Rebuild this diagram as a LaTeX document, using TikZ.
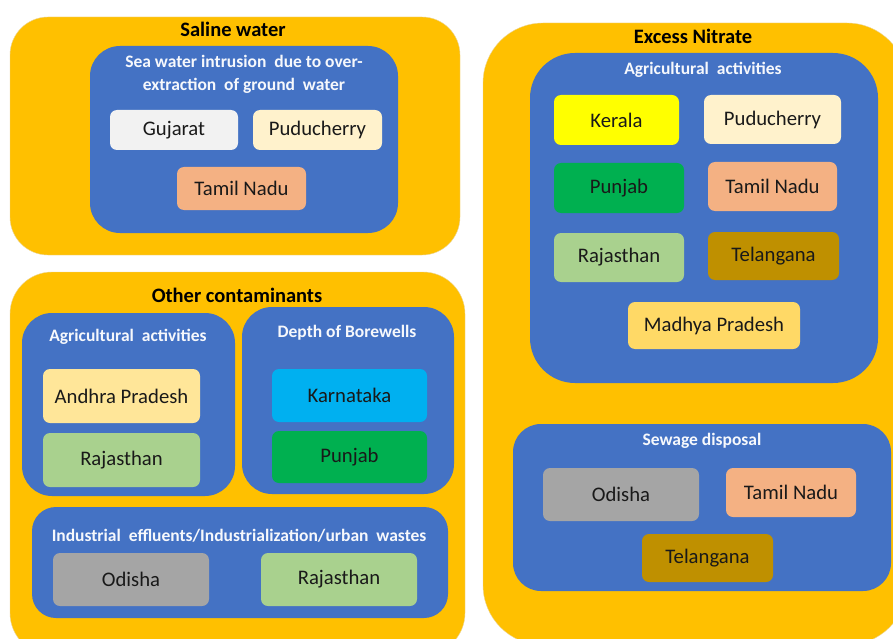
\documentclass[tikz,border=0pt]{standalone}
\usepackage{fontspec}
\setmainfont{Carlito}
\definecolor{orng}{HTML}{FFC000}
\definecolor{blu}{HTML}{4472C4}
\definecolor{cGray}{HTML}{F2F2F2}
\definecolor{cCream}{HTML}{FFF2CC}
\definecolor{cSalmon}{HTML}{F4B183}
\definecolor{cYellow}{HTML}{FFFF00}
\definecolor{cGreen}{HTML}{00B050}
\definecolor{cLgreen}{HTML}{A9D18E}
\definecolor{cOchre}{HTML}{BF9000}
\definecolor{cGold}{HTML}{FFD966}
\definecolor{cLgold}{HTML}{FFE699}
\definecolor{cSky}{HTML}{00B0F0}
\definecolor{cDgray}{HTML}{A5A5A5}
\tikzset{
  outerbox/.style={fill=orng, draw=orng!80!black!40, line width=0.4pt, inner sep=0pt},
  bluebox/.style={fill=blu, draw=none, inner sep=0pt},
  statebox/.style={rounded corners=7, draw=none, inner sep=0pt, text=black!90,
    font=\fontsize{20.7}{24}\selectfont},
  maintitle/.style={font=\bfseries\fontsize{20.5}{23}\selectfont, text=black, inner sep=0pt},
  subtitle/.style={font=\bfseries\fontsize{17.5}{23}\selectfont, text=white!95!blu, inner sep=0pt, align=center},
}
\begin{document}
\begin{tikzpicture}[x=1pt,y=-1pt]
\useasboundingbox (0,0) rectangle (893,639);
\clip (0,0) rectangle (893,639);
\fill[white] (0,0) rectangle (893,639);

% ---------- Saline water ----------
\node[outerbox, rounded corners=38, minimum width=450, minimum height=238] (saline) at (235,136) {};
\node[maintitle] (salinet) at (233,29) {Saline water};
\node[bluebox, rounded corners=30, minimum width=308, minimum height=187] (seab) at (244,139.5) {};
\node[subtitle] (seat) at (244,74.5) {Sea water intrusion\ \ due to over-\\extraction\ \ of ground\ \ water};
\node[statebox, fill=cGray, minimum width=128, minimum height=40] (sguj) at (174,130) {Gujarat};
\node[statebox, fill=cCream, minimum width=129, minimum height=40] (spud) at (317.5,130) {Puducherry};
\node[statebox, fill=cSalmon, minimum width=129, minimum height=43] (stn) at (241.5,188.5) {Tamil Nadu};

% ---------- Other contaminants ----------
\node[outerbox, rounded corners=42, minimum width=455, minimum height=383] (other) at (237.5,463.5) {};
\node[maintitle] (othert) at (237,295) {Other contaminants};
\node[bluebox, rounded corners=30, minimum width=213, minimum height=183] (oagri) at (128.5,404.5) {};
\node[subtitle] (oagrit) at (128,337) {Agricultural\ \ activities};
\node[statebox, fill=cLgold, minimum width=157, minimum height=54] (oap) at (121.5,396) {Andhra Pradesh};
\node[statebox, fill=cLgreen, minimum width=157, minimum height=54] (oraj) at (121.5,460) {Rajasthan};
\node[bluebox, rounded corners=30, minimum width=212, minimum height=187] (odep) at (348,400.5) {};
\node[subtitle] (odept) at (347,333) {Depth of Borewells};
\node[statebox, fill=cSky, minimum width=155, minimum height=53] (okar) at (349.5,395.5) {Karnataka};
\node[statebox, fill=cGreen, minimum width=155, minimum height=52] (opun) at (349.5,457) {Punjab};
\node[bluebox, rounded corners=24, minimum width=416, minimum height=111] (oind) at (240,562.5) {};
\node[subtitle] (oindt) at (239,536) {Industrial\ \ effluents/Industrialization/urban\ \ wastes};
\node[statebox, fill=cDgray, minimum width=156, minimum height=53] (oodi) at (131,579.5) {Odisha};
\node[statebox, fill=cLgreen, minimum width=156, minimum height=53] (oraj2) at (339,579.5) {Rajasthan};

% ---------- Excess Nitrate ----------
\node[outerbox, rounded corners=60, minimum width=424, minimum height=622] (nitrate) at (695,334) {};
\node[maintitle] (nitratet) at (693,36) {Excess Nitrate};
\node[bluebox, rounded corners=45, minimum width=348, minimum height=330] (nagri) at (704,218) {};
\node[subtitle] (nagrit) at (703,70) {Agricultural\ \ activities};
\node[statebox, fill=cYellow, minimum width=125, minimum height=50] (nker) at (616.5,120) {Kerala};
\node[statebox, fill=cCream, minimum width=137, minimum height=49] (npud) at (772.5,119.5) {Puducherry};
\node[statebox, fill=cGreen, minimum width=130, minimum height=50] (npun) at (619,188) {Punjab};
\node[statebox, fill=cSalmon, minimum width=129, minimum height=49] (ntn) at (772.5,186.5) {Tamil Nadu};
\node[statebox, fill=cLgreen, minimum width=130, minimum height=49] (nraj) at (619,257.5) {Rajasthan};
\node[statebox, fill=cOchre, minimum width=131, minimum height=48] (ntel) at (773.5,256) {Telangana};
\node[statebox, fill=cGold, minimum width=172, minimum height=47] (nmp) at (714,325.5) {Madhya Pradesh};
\node[bluebox, rounded corners=28, minimum width=378, minimum height=167] (nsew) at (702,507.5) {};
\node[subtitle] (nsewt) at (702,441) {Sewage disposal};
\node[statebox, fill=cDgray, minimum width=156, minimum height=53] (nodi) at (621,494.5) {Odisha};
\node[statebox, fill=cSalmon, minimum width=130, minimum height=49] (ntn2) at (791,492.5) {Tamil Nadu};
\node[statebox, fill=cOchre, minimum width=131, minimum height=48] (ntel2) at (707.5,558) {Telangana};
\end{tikzpicture}
\end{document}
